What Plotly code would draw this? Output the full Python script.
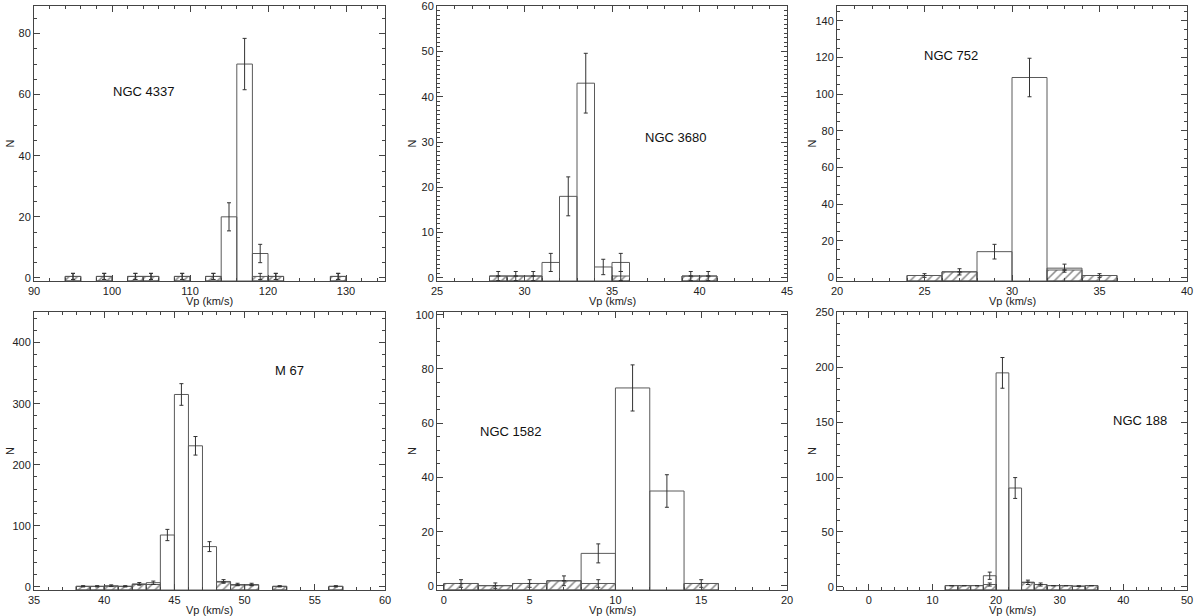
import plotly.graph_objects as go

# ---------------- data ----------------
names = ["NGC 4337", "NGC 3680", "NGC 752", "M 67", "NGC 1582", "NGC 188"]

# Panel 1: NGC 4337 (bin width 2)
p1_width = 2
p1_centers = [95, 99, 103, 105, 109, 113, 115, 117, 119, 121, 129]
p1_counts = [0.5, 0.5, 0.5, 0.5, 0.5, 0.5, 20, 70, 8, 0.5, 0.5]
p1_errors = [1, 1, 1, 1, 1, 1, 4.6, 8.4, 3, 1, 1]
p1_hcenters = [95, 99, 103, 105, 109, 113, 119, 121, 129]
p1_hcounts = [0.5, 0.5, 0.5, 0.5, 0.5, 0.5, 0.5, 0.5, 0.5]
p1_herrors = [1, 1, 1, 1, 1, 1, 1, 1, 1]

# Panel 2: NGC 3680 (bin width 1)
p2_width = 1
p2_centers = [28.5, 29.5, 30.5, 31.5, 32.5, 33.5, 34.5, 35.5, 39.5, 40.5]
p2_counts = [0.4, 0.4, 0.4, 3.4, 18, 43, 2.4, 3.4, 0.4, 0.4]
p2_errors = [0, 0, 0, 2.0, 4.3, 6.6, 1.7, 2.0, 0, 0]
p2_hcenters = [28.5, 29.5, 30.5, 35.5, 39.5, 40.5]
p2_hcounts = [0.4, 0.4, 0.4, 0.4, 0.4, 0.4]
p2_herrors = [1, 1, 1, 1, 1, 1]

# Panel 3: NGC 752 (bin width 2)
p3_width = 2
p3_centers = [25, 27, 29, 31, 33, 35]
p3_counts = [1, 3, 14, 109, 5, 1]
p3_errors = [0, 0, 4, 10.5, 2.2, 0]
p3_hcenters = [25, 27, 33, 35]
p3_hcounts = [1, 3, 4, 1]
p3_herrors = [1, 1.7, 0, 1]

# Panel 4: M 67 (bin width 1)
p4_width = 1
p4_centers = [38.5, 39.5, 40.5, 41.5, 42.5, 43.5, 44.5, 45.5, 46.5, 47.5,
              48.5, 49.5, 50.5, 52.5, 56.5]
p4_counts = [1, 1, 2, 1, 5, 7, 85, 315, 231, 66, 9, 4, 4, 1, 1]
p4_errors = [1, 1, 1.4, 1, 2.2, 2.6, 9.2, 17.7, 15.2, 8.1, 3, 2, 2, 1, 1]
p4_hcenters = [38.5, 39.5, 40.5, 41.5, 42.5, 43.5, 48.5, 49.5, 50.5, 52.5, 56.5]
p4_hcounts = [1, 1, 1, 1, 4, 4, 8, 3, 3, 1, 1]
p4_herrors = [0, 0, 0, 0, 0, 0, 0, 0, 0, 0, 0]

# Panel 5: NGC 1582 (bin width 2)
p5_width = 2
p5_centers = [1, 3, 5, 7, 9, 11, 13, 15]
p5_counts = [0.9, 0.1, 0.9, 1.9, 12, 73, 35, 0.9]
p5_errors = [0, 0, 0, 0, 3.5, 8.5, 6, 0]
p5_hcenters = [1, 3, 5, 7, 9, 15]
p5_hcounts = [0.9, 0.1, 0.9, 1.9, 0.9, 0.9]
p5_herrors = [1.4, 1, 1.4, 1.8, 1.4, 1.4]

# Panel 6: NGC 188 (bin width 2)
p6_width = 2
p6_centers = [13, 15, 17, 19, 21, 23, 25, 27, 29, 31, 33, 35]
p6_counts = [1, 1, 1, 10, 195, 90, 4, 2, 1, 1, 0.5, 1]
p6_errors = [0, 0, 0, 3.3, 14, 9.5, 2, 1.4, 0, 0, 0, 0]
p6_hcenters = [13, 15, 17, 19, 25, 27, 29, 31, 33, 35]
p6_hcounts = [1, 1, 1, 2, 4, 2, 1, 1, 0.5, 1]
p6_herrors = [0, 0, 0, 1.4, 0, 0, 0, 0, 0, 0]

# axis ranges and ticks
x_ranges = [[90, 135], [25, 45], [20, 40], [35, 60], [-0.4, 20], [-5, 50]]
x_dtick = [10, 5, 5, 5, 5, 10]
x_minor = [2, 1, 1, 1, 1, 2]
y_ranges = [[-1, 89], [-0.7, 60.05], [-2, 148], [-5, 450], [-1.5, 101], [-3, 250.5]]
y_dtick = [20, 10, 20, 100, 20, 50]
y_minor = [5, 1, 5, 20, 5, 10]

# label positions (data coords)
label_x = [104, 38.6, 26.5, 53.2, 3.9, 42.6]
label_y = [61, 31, 121, 354, 57, 152]

# ---------------- figure ----------------
W, H = 1200, 616
col_px = [(34, 385), (437, 787), (837, 1187)]
row_px = [(6, 281), (312, 590)]
xtitle_px = [301, 610]
ytitle_px = [10, 412, 812]

panels = [
    (p1_width, p1_centers, p1_counts, p1_errors, p1_hcenters, p1_hcounts, p1_herrors),
    (p2_width, p2_centers, p2_counts, p2_errors, p2_hcenters, p2_hcounts, p2_herrors),
    (p3_width, p3_centers, p3_counts, p3_errors, p3_hcenters, p3_hcounts, p3_herrors),
    (p4_width, p4_centers, p4_counts, p4_errors, p4_hcenters, p4_hcounts, p4_herrors),
    (p5_width, p5_centers, p5_counts, p5_errors, p5_hcenters, p5_hcounts, p5_herrors),
    (p6_width, p6_centers, p6_counts, p6_errors, p6_hcenters, p6_hcounts, p6_herrors),
]

fig = go.Figure()
AX = "#444444"
LINE = "#5a5a5a"
FS = 11
layout = dict(
    width=W, height=H, margin=dict(l=0, r=0, t=0, b=0, autoexpand=False),
    paper_bgcolor="white", plot_bgcolor="white",
    showlegend=False, barmode="overlay",
    font=dict(family="Liberation Sans, Arial, sans-serif", size=FS, color="#222"),
)
annotations = []

for i, (w, mc, mn, me, hc, hn, he) in enumerate(panels):
    k = i + 1
    xa = "x" if k == 1 else f"x{k}"
    ya = "y" if k == 1 else f"y{k}"
    r, c = divmod(i, 3)
    x0, x1 = col_px[c]
    y0, y1 = row_px[r]
    ymin = y_ranges[i][0]

    # hatched histogram
    fig.add_trace(go.Bar(
        x=hc, y=[v - ymin for v in hn], base=ymin, width=w,
        xaxis=xa, yaxis=ya,
        marker=dict(color="white",
                    pattern=dict(shape="/", fgcolor="#111", bgcolor="white",
                                 size=6, solidity=0.25),
                    line=dict(color=LINE, width=1)),
        hoverinfo="skip"))
    # main histogram outline
    fig.add_trace(go.Bar(
        x=mc, y=[v - ymin for v in mn], base=ymin, width=w,
        xaxis=xa, yaxis=ya,
        marker=dict(color="rgba(0,0,0,0)", line=dict(color=LINE, width=1)),
        hoverinfo="skip"))
    # error bars (main)
    fig.add_trace(go.Scatter(
        x=mc, y=mn, mode="markers", xaxis=xa, yaxis=ya,
        marker=dict(size=1, color="rgba(0,0,0,0)"),
        error_y=dict(type="data", array=me, visible=True, color="#333",
                     thickness=1, width=2),
        hoverinfo="skip"))
    # error bars (hatched)
    fig.add_trace(go.Scatter(
        x=hc, y=hn, mode="markers", xaxis=xa, yaxis=ya,
        marker=dict(size=1, color="rgba(0,0,0,0)"),
        error_y=dict(type="data", array=he, visible=True, color="#333",
                     thickness=1, width=2),
        hoverinfo="skip"))

    common = dict(showline=True, linecolor=AX, linewidth=1, mirror="ticks",
                  ticks="inside", ticklen=6, tickcolor=AX, tickwidth=1,
                  showgrid=False, zeroline=False, automargin=False,
                  ticklabeloverflow="allow",
                  tickfont=dict(size=FS, color="#222"))
    layout["xaxis" if k == 1 else f"xaxis{k}"] = dict(
        common, domain=[x0 / W, x1 / W], anchor=ya, range=x_ranges[i],
        tick0=0, dtick=x_dtick[i],
        minor=dict(dtick=x_minor[i], tick0=0, ticks="inside", ticklen=3,
                   tickcolor=AX))
    layout["yaxis" if k == 1 else f"yaxis{k}"] = dict(
        common, domain=[1 - y1 / H, 1 - y0 / H], anchor=xa, range=y_ranges[i],
        tick0=0, dtick=y_dtick[i],
        minor=dict(dtick=y_minor[i], tick0=0, ticks="inside", ticklen=3,
                   tickcolor=AX))

    # axis titles
    annotations.append(dict(
        x=(x0 + x1) / 2 / W, y=1 - xtitle_px[r] / H, xref="paper", yref="paper",
        text="Vp (km/s)", showarrow=False, font=dict(size=FS, color="#222"),
        xanchor="center", yanchor="middle"))
    annotations.append(dict(
        x=ytitle_px[c] / W, y=1 - (y0 + y1) / 2 / H, xref="paper", yref="paper",
        text="N", showarrow=False, textangle=-90, font=dict(size=FS, color="#222"),
        xanchor="center", yanchor="middle"))
    # cluster name
    annotations.append(dict(
        x=label_x[i], y=label_y[i], xref=xa, yref=ya, text=names[i],
        showarrow=False, font=dict(size=13, color="#111"),
        xanchor="center", yanchor="middle"))

layout["annotations"] = annotations
fig.update_layout(**layout)
fig.write_html("out.html", config={"displayModeBar": False},
               post_script="document.body.style.margin='0';"
                           "document.body.style.overflow='hidden';")
